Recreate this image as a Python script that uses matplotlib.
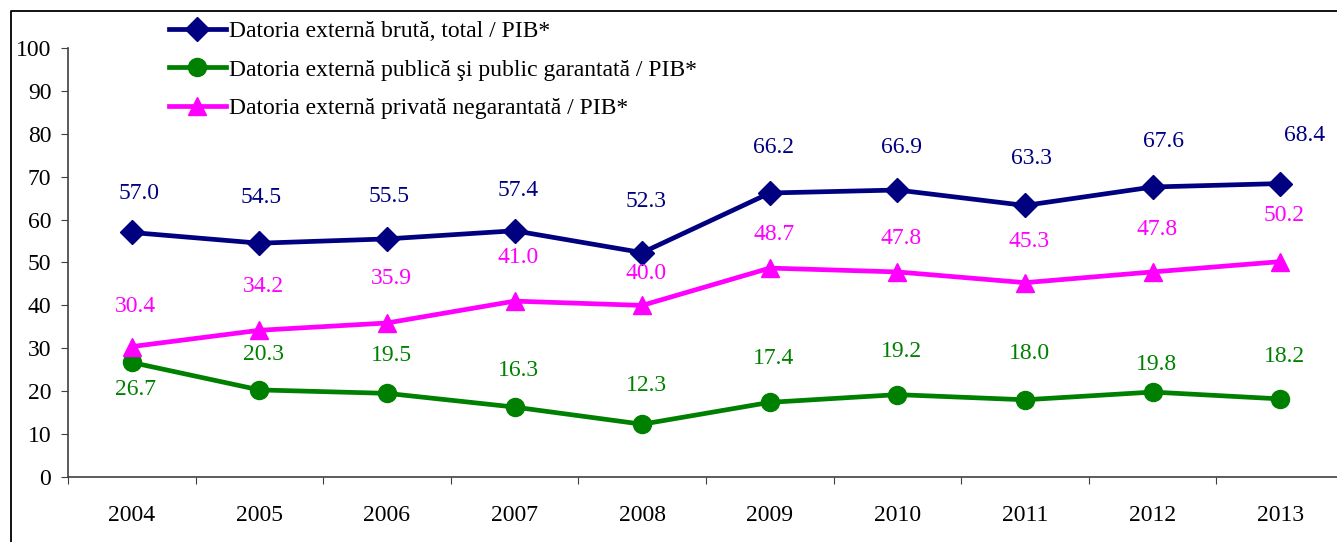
import matplotlib.pyplot as plt
from matplotlib.lines import Line2D

# data
years = ['2004', '2005', '2006', '2007', '2008', '2009', '2010', '2011', '2012', '2013']
total = [57.0, 54.5, 55.5, 57.4, 52.3, 66.2, 66.9, 63.3, 67.6, 68.4]
public = [26.7, 20.3, 19.5, 16.3, 12.3, 17.4, 19.2, 18.0, 19.8, 18.2]
private = [30.4, 34.2, 35.9, 41.0, 40.0, 48.7, 47.8, 45.3, 47.8, 50.2]

names = ['Datoria externă brută, total / PIB*',
         'Datoria externă publică şi public garantată / PIB*',
         'Datoria externă privată negarantată / PIB*']

# label offsets in pixels (placement only)
off_total = [39, 46, 42, 40, 51, 46, 42, 47, 45, 48]
off_public = [-27, 35, 38, 37, 39, 44, 43, 46, 28, 42]
off_private = [40, 44, 44, 44, 32, 34, 33, 41, 42, 46]
dx_total = [7, 2, 2, 4, 4, 4, 4, 7, 11, 24]

plt.rcParams['font.family'] = ['Liberation Serif', 'DejaVu Serif']
FS = 17

fig = plt.figure(figsize=(13.37, 5.42), dpi=100)
ax = fig.add_axes([68 / 1337, 65 / 542, 1276 / 1337, 429 / 542])

x = list(range(len(years)))
series = [
    (total, '#000080', 'D', 12, off_total),
    (public, '#008000', 'o', 13, off_public),
    (private, '#FF00FF', '^', 13, off_private),
]
handles = []
for (vals, col, mk, ms, offs), name in zip(series, names):
    h, = ax.plot(x, vals, color=col, lw=3.4, marker=mk, markersize=ms,
                 label=name, clip_on=False)
    handles.append(h)
    for i, v in enumerate(vals):
        dx = dx_total[i] if vals is total else 4
        ax.annotate('%.1f' % v, (i, v), xytext=(dx, offs[i]),
                    textcoords='offset pixels', ha='center', va='center',
                    color=col, fontsize=FS)

ax.set_xlim(-0.5, 9.5)
ax.set_ylim(0, 100)
ax.set_yticks(range(0, 101, 10))
ax.set_xticks([i - 0.5 for i in range(11)])
ax.set_xticklabels([])
ax.set_xticks(x, minor=True)
ax.set_xticklabels(years, minor=True)
ax.tick_params(axis='x', which='minor', length=0, pad=20, labelsize=FS)
ax.tick_params(axis='x', which='major', length=5, direction='out', color='#404040')
ax.tick_params(axis='y', length=5, pad=7, labelsize=FS, color='#404040')
for s in ['top', 'right']:
    ax.spines[s].set_visible(False)
for s in ['left', 'bottom']:
    ax.spines[s].set_color('#404040')
    ax.spines[s].set_linewidth(1.2)

fig.legend(handles=handles, loc='upper left',
           bbox_to_anchor=(152 / 1337, 1 - 4 / 542), frameon=False,
           fontsize=FS, handlelength=2.45, handletextpad=0.13,
           labelspacing=0.72, borderpad=0.2)

# outer frame (cut off on right and bottom)
fig.add_artist(Line2D([11 / 1337, 11 / 1337, 1.0], [0.0, 1 - 11 / 542, 1 - 11 / 542],
                      transform=fig.transFigure, color='black', lw=1.3))

fig.savefig('out.png', dpi=100)
